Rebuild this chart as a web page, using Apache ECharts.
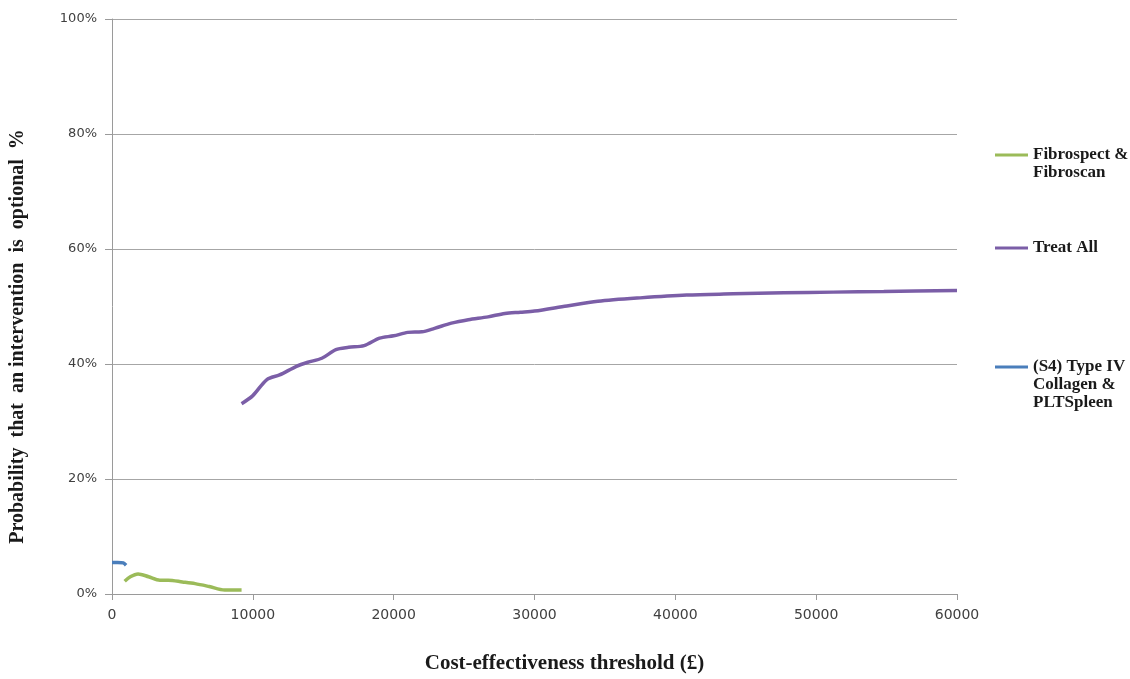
<!DOCTYPE html>
<html>
<head>
<meta charset="utf-8">
<script src="https://cdn.jsdelivr.net/npm/echarts@6/dist/echarts.min.js"></script>
<style>html,body{margin:0;padding:0;background:#fff;}#chart{width:1130px;height:679px;}</style>
</head>
<body>
<div id="chart"></div>
<script>
const seriesNames = ['Fibrospect & Fibroscan', 'Treat All', '(S4) Type IV Collagen & PLTSpleen'];
const legendLabels = ['Fibrospect &\nFibroscan', 'Treat All', '(S4) Type IV\nCollagen &\nPLTSpleen'];

const fibroX = [900, 1300, 1850, 2600, 3400, 4000, 5000, 5900, 6900, 8000, 9200];
const fibroY = [2.2, 3.0, 3.5, 3.0, 2.4, 2.4, 2.1, 1.8, 1.3, 0.7, 0.7];

const treatX = [9200, 10000, 11000, 11900, 13100, 13900, 14900, 15900, 16800, 17900, 19000, 20000, 21000, 22000, 22900, 24100, 25300, 26700, 27900, 29000, 30000, 32300, 34500, 37500, 40800, 44100, 47700, 51200, 54800, 60000];
const treatY = [33.1, 34.5, 37.3, 38.1, 39.6, 40.3, 41.0, 42.5, 42.9, 43.2, 44.5, 44.9, 45.5, 45.6, 46.2, 47.1, 47.7, 48.2, 48.8, 49.0, 49.2, 50.1, 50.9, 51.5, 52.0, 52.2, 52.4, 52.5, 52.6, 52.8];

const collX = [0, 400, 800, 1000];
const collY = [5.5, 5.5, 5.4, 5.0];

const yTicks = [0, 20, 40, 60, 80, 100];
const xTicks = [0, 10000, 20000, 30000, 40000, 50000, 60000];

const colors = ['#9BBB59', '#7B5EA7', '#4A7EBB'];

function pairs(xs, ys) { return xs.map((x, i) => [x, ys[i]]); }

const chart = echarts.init(document.getElementById('chart'), null, {renderer: 'canvas'});

const LH = 18;
const legendFont = {fontFamily: 'Liberation Serif', fontWeight: 'bold', fontSize: 17, color: '#1a1a1a', lineHeight: LH};
const legendTops = [155, 248, 367];
const legends = seriesNames.map((n, i) => {
  const lines = legendLabels[i].split('\n').length;
  // pad with empty lines on top so the first text line sits level with the icon
  const label = '\n'.repeat(lines - 1) + legendLabels[i];
  const total = 2 * lines - 1;
  return {
    show: true,
    left: 995,
    top: legendTops[i] - total * LH / 2,
    padding: 0,
    orient: 'vertical',
    icon: 'rect',
    itemWidth: 33,
    itemHeight: 3,
    itemGap: 0,
    data: [n],
    formatter: () => label,
    textStyle: legendFont
  };
});

const option = {
  backgroundColor: '#ffffff',
  animation: false,
  color: colors,
  legend: legends,
  grid: {left: 110, right: 173, top: 19, bottom: 77, containLabel: false},
  xAxis: {
    type: 'value',
    min: 0, max: 60000, interval: 10000,
    name: 'Cost-effectiveness threshold (£)',
    nameLocation: 'middle',
    nameGap: 59,
    nameTextStyle: {fontFamily: 'Liberation Serif', fontWeight: 'bold', fontSize: 21, color: '#1a1a1a', padding: [0, 0, 0, 60]},
    axisLine: {show: true, lineStyle: {color: '#9a9a9a', width: 1}},
    axisTick: {show: true, length: 6, lineStyle: {color: '#9a9a9a'}},
    axisLabel: {fontFamily: 'DejaVu Sans', fontSize: 14, color: '#404040', margin: 14,
      formatter: v => xTicks.includes(v) ? String(v) : ''},
    splitLine: {show: false}
  },
  yAxis: {
    type: 'value',
    min: 0, max: 100, interval: 20,
    name: 'Probability  that  an intervention  is  optional  %',
    nameLocation: 'middle',
    nameGap: 84,
    nameTextStyle: {fontFamily: 'Liberation Serif', fontWeight: 'bold', fontSize: 20, color: '#1a1a1a', padding: [0, 60, 0, 0]},
    axisLine: {show: true, lineStyle: {color: '#9a9a9a', width: 1}},
    axisTick: {show: true, length: 7, lineStyle: {color: '#9a9a9a'}},
    axisLabel: {fontFamily: 'DejaVu Sans', fontSize: 13, color: '#404040', margin: 15,
      formatter: v => yTicks.includes(v) ? v + '%' : ''},
    splitLine: {show: true, lineStyle: {color: '#a6a6a6', width: 1}}
  },
  series: [
    {name: seriesNames[0], type: 'line', data: pairs(fibroX, fibroY), smooth: 0.3, showSymbol: false,
      lineStyle: {width: 3.5, color: colors[0]}, itemStyle: {color: colors[0]}},
    {name: seriesNames[1], type: 'line', data: pairs(treatX, treatY), smooth: 0.3, showSymbol: false,
      lineStyle: {width: 3.5, color: colors[1]}, itemStyle: {color: colors[1]}},
    {name: seriesNames[2], type: 'line', data: pairs(collX, collY), smooth: 0.3, showSymbol: false,
      lineStyle: {width: 3.5, color: colors[2]}, itemStyle: {color: colors[2]}}
  ]
};
chart.setOption(option);
</script>
</body>
</html>
